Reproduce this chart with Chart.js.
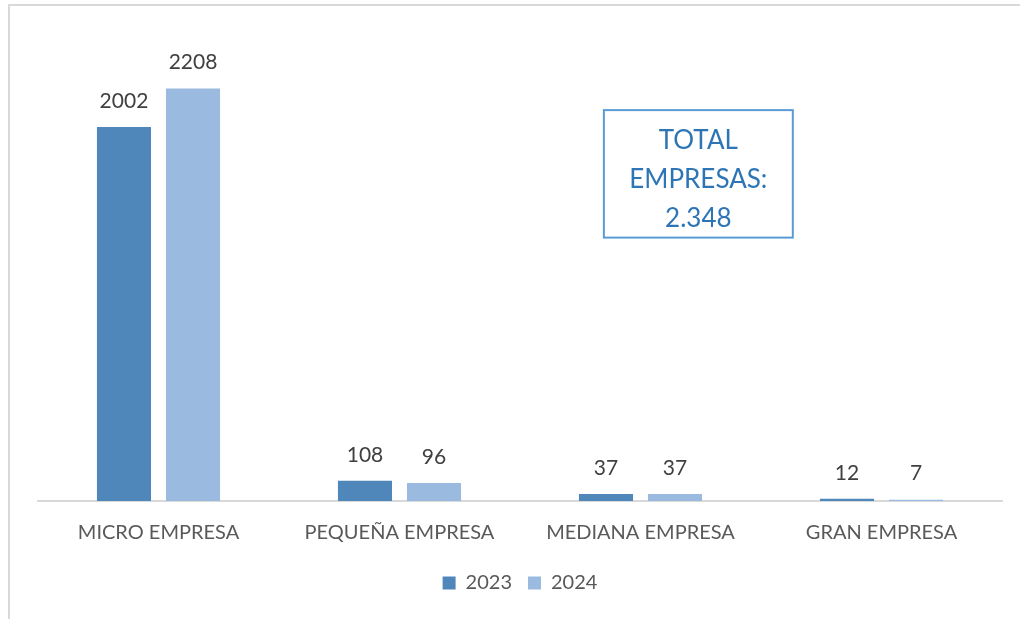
<!DOCTYPE html>
<html>
<head>
<meta charset="utf-8">
<script src="https://cdn.jsdelivr.net/npm/chart.js@4.4.1/dist/chart.umd.min.js"></script>
<style>
  html, body { margin: 0; padding: 0; background: #fff; }
  #marco { position: absolute; left: 8px; top: 4px; width: 1040px; height: 640px; border-left: 2px solid #D9D9D9; border-top: 2px solid #D9D9D9; }
  #wrap { position: absolute; left: 0; top: 0; width: 1020px; height: 619px; }
</style>
</head>
<body>
<div id="marco"></div>
<div id="wrap"><canvas id="grafico"></canvas></div>
<script>
// --- DATOS ---
const categorias = ['MICRO EMPRESA', 'PEQUEÑA EMPRESA', 'MEDIANA EMPRESA', 'GRAN EMPRESA'];
const valores2023 = [2002, 108, 37, 12];
const valores2024 = [2208, 96, 37, 7];
const anios = ['2023', '2024'];
const totalTexto = ['TOTAL', 'EMPRESAS:', '2.348'];

const FUENTE = "Lato, 'Open Sans', sans-serif";

// etiquetas encima de cada barra
const etiquetasPlugin = {
    id: 'etiquetas',
    afterDatasetsDraw(chart) {
        const ctx = chart.ctx;
        ctx.save();
        ctx.font = '21px ' + FUENTE;
        ctx.fillStyle = '#404040';
        ctx.textAlign = 'center';
        ctx.textBaseline = 'middle';
        chart.data.datasets.forEach((ds, i) => {
            chart.getDatasetMeta(i).data.forEach((bar, j) => {
                ctx.fillText(ds.data[j], bar.x, bar.y - 26);
            });
        });
        ctx.restore();
    }
};

// cuadro de texto "TOTAL EMPRESAS"
const cuadroPlugin = {
    id: 'cuadro',
    afterDraw(chart) {
        const a = chart.chartArea;
        const ctx = chart.ctx;
        const w = a.right - a.left, h = a.bottom - a.top;
        const x0 = a.left + w * 0.587, x1 = a.left + w * 0.783;
        const y0 = a.top + h * 0.163, y1 = a.top + h * 0.436;
        ctx.save();
        ctx.strokeStyle = '#5B9BD5';
        ctx.lineWidth = 2;
        ctx.strokeRect(x0, y0, x1 - x0, y1 - y0);
        ctx.font = '26px ' + FUENTE;
        ctx.fillStyle = '#2E75B6';
        ctx.textAlign = 'center';
        ctx.textBaseline = 'middle';
        const cx = (x0 + x1) / 2;
        totalTexto.forEach((t, i) => ctx.fillText(t, cx, y0 + 30 + i * 39));
        ctx.restore();
    }
};

new Chart(document.getElementById('grafico').getContext('2d'), {
    type: 'bar',
    data: {
        labels: categorias,
        datasets: [
            { label: anios[0], data: valores2023, backgroundColor: '#4F87BA', categoryPercentage: 0.573, barPercentage: 0.783 },
            { label: anios[1], data: valores2024, backgroundColor: '#9ABAE0', categoryPercentage: 0.573, barPercentage: 0.783 }
        ]
    },
    options: {
        responsive: true,
        maintainAspectRatio: false,
        animation: false,
        layout: { padding: { left: 38, right: 18, top: 34, bottom: 16 } },
        plugins: {
            tooltip: { enabled: false },
            legend: {
                position: 'bottom',
                labels: { font: { size: 20, family: FUENTE }, color: '#595959', boxWidth: 13, boxHeight: 13, padding: 16 }
            }
        },
        scales: {
            x: {
                grid: { display: false },
                border: { color: '#D9D9D9', width: 2 },
                ticks: { font: { size: 20, family: FUENTE }, color: '#595959', padding: 12 }
            },
            y: { display: false, min: 0, max: 2500 }
        }
    },
    plugins: [etiquetasPlugin, cuadroPlugin]
});
</script>
</body>
</html>
